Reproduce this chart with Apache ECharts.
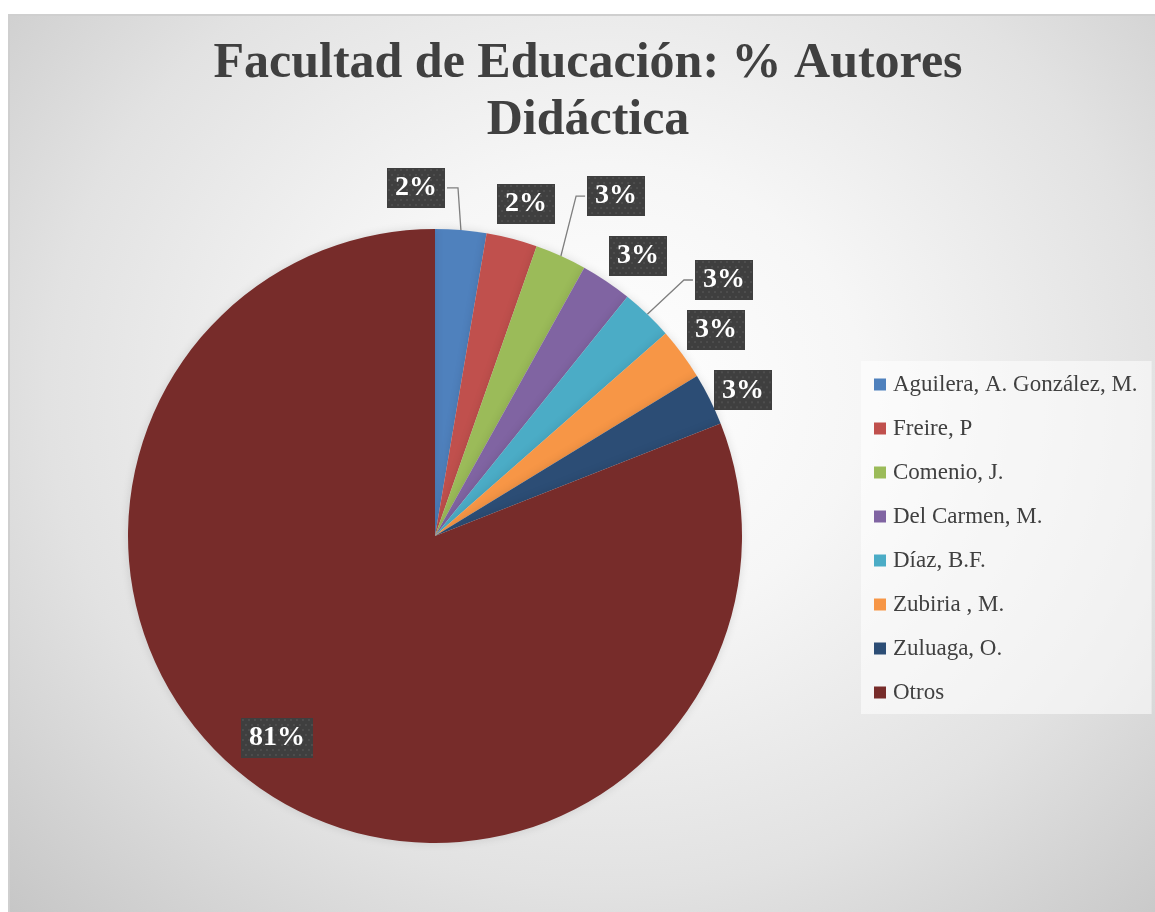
<!DOCTYPE html>
<html>
<head>
<meta charset="utf-8">
<script src="https://cdn.jsdelivr.net/npm/echarts@6/dist/echarts.min.js"></script>
<style>
  html, body { margin: 0; padding: 0; background: #ffffff; }
  #bg {
    position: absolute; left: 8px; top: 14px; width: 1147px; height: 898px;
    box-sizing: border-box; border-top: 2px solid #cfcfcf; border-left: 2px solid #cfcfcf;
    background: radial-gradient(ellipse 75% 85% at 52% 42%, #ffffff 0%, #f6f6f6 30%, #e2e2e2 65%, #c4c4c4 100%);
  }
  #chart { position: absolute; left: 0; top: 0; width: 1155px; height: 912px; }
</style>
</head>
<body>
<div id="bg"></div>
<div id="chart"></div>
<script>
// ---- data ----
const titleText = 'Facultad de Educación: % Autores\nDidáctica';
const categories = ['Aguilera, A. González, M.', 'Freire, P', 'Comenio, J.', 'Del Carmen, M.', 'Díaz, B.F.', 'Zubiria , M.', 'Zuluaga, O.', 'Otros'];
const values = [2.69, 2.68, 2.71, 2.70, 2.75, 2.74, 2.76, 80.97];

// ---- styles ----
const colors = ['#4F81BD', '#C0504D', '#9BBB59', '#8064A2', '#4BACC6', '#F79646', '#2C4D75', '#772C2A'];
const showLeader = [true, false, true, false, true, false, false, false];
const labelInside = [false, false, false, false, false, false, false, true];
// label nudges (dx, dy) relative to library's default label placement
const labelNudge = [[-80.6, -22.2], [-24.9, -15.4], [13, -41.7], [-13.6, -8.7], [28.8, -19.8], [-16.3, -12.1], [-18.8, 0], [-70, 72.6]];

function texture(w, h) {
  const c = document.createElement('canvas');
  c.width = w; c.height = h;
  const g = c.getContext('2d');
  g.fillStyle = '#3f3f3f';
  g.fillRect(0, 0, w, h);
  g.fillStyle = 'rgba(255,255,255,0.10)';
  let row = 0;
  for (let y = 2; y < h; y += 5, row++) {
    for (let x = (row % 2 ? 5 : 2); x < w; x += 6) {
      g.beginPath(); g.arc(x, y, 1, 0, Math.PI * 2); g.fill();
    }
  }
  return c;
}
const texSmall = texture(58, 40);
const texBig = texture(72, 40);

const chart = echarts.init(document.getElementById('chart'), null, { renderer: 'canvas' });

const pieData = categories.map((name, i) => ({
  name: name,
  value: values[i],
  itemStyle: { color: colors[i] },
  label: labelInside[i]
    ? { position: 'inside', backgroundColor: { image: texBig } }
    : { position: 'outside', backgroundColor: { image: texSmall } },
  labelLine: { show: showLeader[i] }
}));

chart.setOption({
  animation: false,
  title: {
    text: titleText,
    left: 583,
    top: 31,
    padding: 5,
    textAlign: 'center',
    textStyle: {
      fontFamily: 'Liberation Serif',
      fontWeight: 'bold',
      fontSize: 50,
      lineHeight: 57,
      color: '#404040'
    }
  },
  legend: {
    orient: 'vertical',
    left: 861,
    top: 361,
    padding: [12, 14, 10, 13],
    itemWidth: 12,
    itemHeight: 12,
    itemGap: 21,
    icon: 'rect',
    selectedMode: false,
    backgroundColor: 'rgba(255,255,255,0.55)',
    textStyle: {
      fontFamily: 'Liberation Serif',
      fontSize: 23,
      lineHeight: 23,
      color: '#404040',
      padding: [0, 0, 0, 2]
    },
    data: categories
  },
  series: [{
    type: 'pie',
    center: [435, 536],
    radius: [0, 307],
    startAngle: 90,
    clockwise: true,
    avoidLabelOverlap: false,
    percentPrecision: 0,
    itemStyle: {
      borderWidth: 0,
      shadowBlur: 10,
      shadowColor: 'rgba(0,0,0,0.12)'
    },
    emphasis: { disabled: true },
    label: {
      show: true,
      formatter: '{d}%',
      fontFamily: 'Liberation Serif',
      fontWeight: 'bold',
      fontSize: 28,
      lineHeight: 28,
      color: '#ffffff',
      padding: [6, 8, 6, 8],
      shadowColor: 'rgba(0,0,0,0.45)',
      shadowBlur: 4,
      shadowOffsetX: 2,
      shadowOffsetY: 2
    },
    labelLine: {
      length: 20,
      length2: 0,
      smooth: false,
      lineStyle: { color: '#7f7f7f', width: 1.3 }
    },
    labelLayout: function (params) {
      const i = params.dataIndex;
      const r = params.labelRect;
      const n = labelNudge[i] || [0, 0];
      const cx = r.x + r.width / 2 + n[0];
      const cy = r.y + r.height / 2 + n[1];
      const out = { x: cx, y: cy, align: 'center', verticalAlign: 'middle' };
      const pts = params.labelLinePoints;
      if (pts && pts.length && showLeader[i]) {
        const p0 = pts[0];
        const leftSide = cx < p0[0];
        const edge = leftSide ? cx + r.width / 2 + 2 : cx - r.width / 2 - 2;
        const bend = leftSide ? edge + 11 : edge - 9;
        out.labelLinePoints = [[p0[0], p0[1]], [bend, cy], [edge, cy]];
      }
      return out;
    },
    data: pieData
  }]
});
</script>
</body>
</html>
